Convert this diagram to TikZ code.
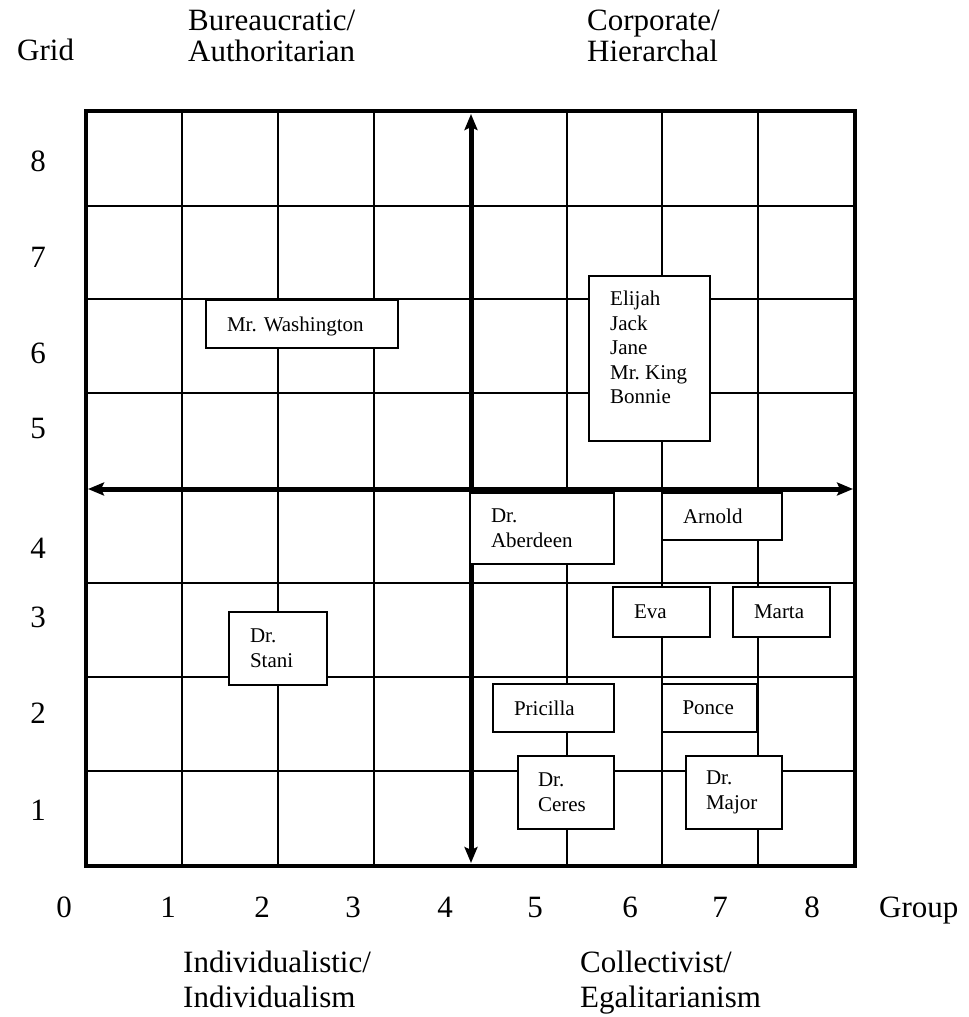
\documentclass[tikz,border=0pt]{standalone}
\usepackage{fontspec}
\setmainfont{Liberation Serif}
\usetikzlibrary{arrows.meta}
\begin{document}
\frenchspacing
\begin{tikzpicture}[x=1bp,y=-1bp,
  gridline/.style={line width=2.2bp},
  frame/.style={line width=4bp},
  axis/.style={line width=5bp, {Stealth[length=16bp,width=13bp,inset=3bp]}-{Stealth[length=16bp,width=13bp,inset=3bp]}},
  box/.style={draw, fill=white, line width=1.6bp, anchor=north west, outer sep=0pt,
    inner xsep=21bp, inner ysep=0pt, align=left, font=\fontsize{21bp}{25bp}\selectfont\frenchspacing},
  boxtext/.style={inner sep=0pt, anchor=north west, align=left, font=\fontsize{21bp}{24.5bp}\selectfont\frenchspacing},
  lbl/.style={font=\fontsize{31bp}{31bp}\selectfont, inner sep=0pt, anchor=base west},
  num/.style={font=\fontsize{31bp}{31bp}\selectfont, inner sep=0pt, anchor=base},
]
\useasboundingbox[fill=white] (0,0) rectangle (969,1017);

% grid
\foreach \x in {182,278,374,567,662,758} \draw[gridline] (\x,111) -- (\x,866);
\foreach \y in {206,299,393,583,677,771} \draw[gridline] (86,\y) -- (855,\y);
\draw[frame] (86,111) rectangle (855,866);

% axes
\coordinate (vtop) at (471,114);
\coordinate (vbot) at (471,863);
\coordinate (hleft) at (88,489);
\coordinate (hright) at (853,489);
\draw[axis] (vtop) -- (vbot);
\draw[axis] (hleft) -- (hright);

% boxes
\node[box, minimum width=192bp, minimum height=48bp, text width=150bp, text depth=0bp] (wash) at (206,300) {Mr. Washington};
\node[box, minimum width=121bp, minimum height=165bp, text width=79bp] (ejbox) at (589,276) {};
\node[boxtext] (ejtext) at (610,291) {Elijah\\Jack\\Jane\\Mr. King\\Bonnie};
\node[box, minimum width=144bp, minimum height=71bp, text width=102bp] (aber) at (470,493) {Dr.\\Aberdeen};
\node[box, minimum width=120bp, minimum height=47bp, text width=78bp] (arnold) at (662,493) {Arnold};
\node[box, minimum width=97bp, minimum height=50bp, text width=55bp] (eva) at (613,587) {Eva};
\node[box, minimum width=97bp, minimum height=50bp, text width=55bp] (marta) at (733,587) {Marta};
\node[box, minimum width=98bp, minimum height=73bp, text width=56bp] (stani) at (229,612) {Dr.\\Stani};
\node[box, minimum width=121bp, minimum height=48bp, text width=79bp] (pric) at (493,684) {Pricilla};
\node[box, minimum width=95bp, minimum height=48bp, text width=54bp, inner xsep=20bp] (ponce) at (662,684) {Ponce};
\node[box, minimum width=96bp, minimum height=73bp, text width=56bp, inner xsep=20bp] (ceres) at (518,756) {Dr.\\Ceres};
\node[box, minimum width=96bp, minimum height=73bp, text width=56bp, inner xsep=20bp] (major) at (686,756) {Dr.\\Major};

% quadrant labels
\node[lbl] (grid) at (17,60) {Grid};
\node[lbl] (bur1) at (188,30) {Bureaucratic/};
\node[lbl] (bur2) at (188,61) {Authoritarian};
\node[lbl] (cor1) at (587,30) {Corporate/};
\node[lbl] (cor2) at (587,61) {Hierarchal};
\node[lbl] (ind1) at (183,972) {Individualistic/};
\node[lbl] (ind2) at (183,1007) {Individualism};
\node[lbl] (col1) at (580,972) {Collectivist/};
\node[lbl] (col2) at (580,1007) {Egalitarianism};
\node[lbl] (group) at (879,917) {Group};

% x numbers
\foreach \n/\x in {0/64,1/168,2/262,3/353,4/445,5/535,6/630,7/720,8/812}
  \node[num] (x\n) at (\x,917) {\n};
% y numbers
\foreach \n/\y in {8/171,7/267,6/363,5/438,4/558,3/627,2/723,1/820}
  \node[num] (y\n) at (38,\y) {\n};
\end{tikzpicture}
\end{document}
